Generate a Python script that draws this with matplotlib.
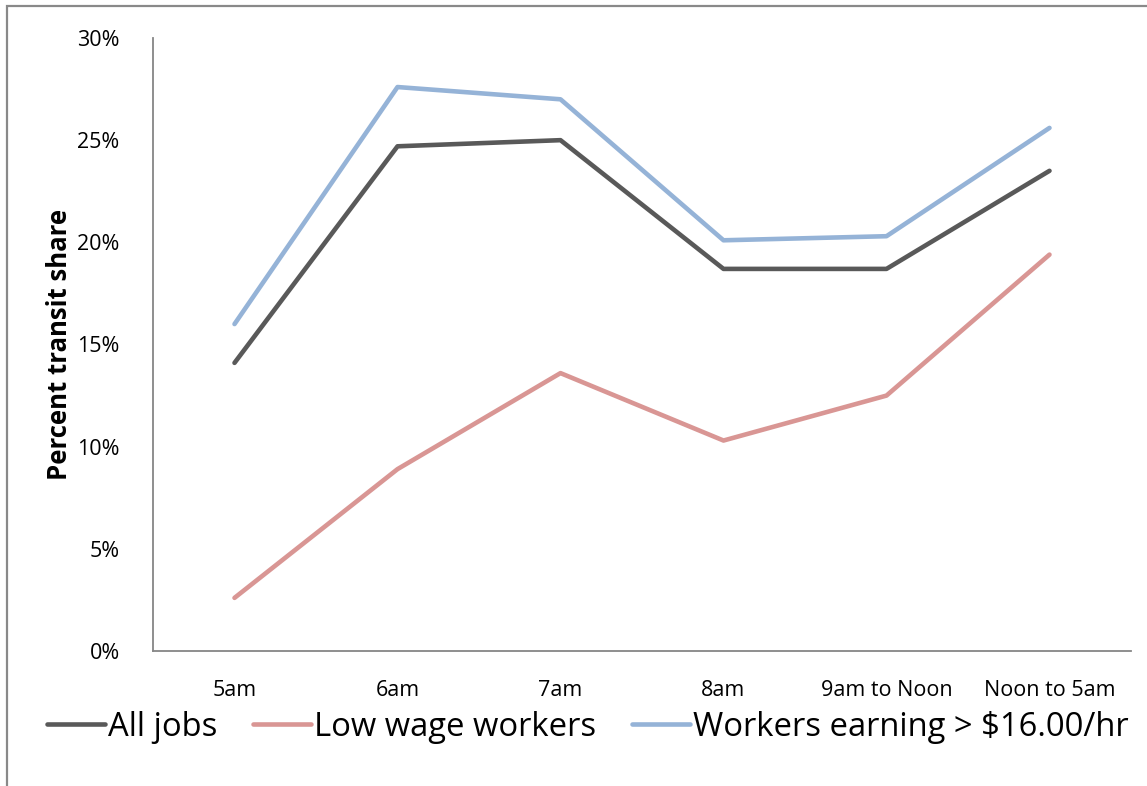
import numpy as np
import matplotlib.pyplot as plt
from matplotlib.patches import Rectangle
from matplotlib.ticker import FuncFormatter

plt.rcParams['font.family'] = ['Open Sans', 'DejaVu Sans']

categories = ["5am", "6am", "7am", "8am", "9am to Noon", "Noon to 5am"]
all_jobs = [14.1, 24.7, 25.0, 18.7, 18.7, 23.5]
low_wage = [2.6, 8.9, 13.6, 10.3, 12.5, 19.4]
high_wage = [16.0, 27.6, 27.0, 20.1, 20.3, 25.6]

W, H = 1147, 786
fig = plt.figure(figsize=(W / 100, H / 100), dpi=100)

# outer chart frame (only left and top edges visible in the reference)
fig.patches.append(Rectangle((7 / W, -0.1), 1.2, 1 - 6 / H + 0.1,
                             transform=fig.transFigure, fill=False,
                             edgecolor="#898989", linewidth=1.6))

ax = fig.add_axes([153 / W, (H - 651) / H, (1131 - 153) / W, (651 - 38) / H])
x = np.arange(len(categories))

ax.plot(x, all_jobs, color="#595959", lw=3.3, solid_capstyle="round", label="All jobs")
ax.plot(x, low_wage, color="#D99694", lw=3.3, solid_capstyle="round", label="Low wage workers")
ax.plot(x, high_wage, color="#95B3D7", lw=3.3, solid_capstyle="round",
        label="Workers earning > $16.00/hr")

ax.set_xlim(-0.5, len(categories) - 0.5)
ax.set_ylim(0, 30)
ax.set_yticks(np.arange(0, 31, 5))
ax.yaxis.set_major_formatter(FuncFormatter(lambda v, p: f"{v:.0f}%"))
ax.set_xticks(x)
ax.set_xticklabels(categories)
ax.tick_params(axis="y", length=0, pad=24, labelsize=15.5)
ax.tick_params(axis="x", length=0, pad=21, labelsize=15.5)

for s in ["top", "right"]:
    ax.spines[s].set_visible(False)
for s in ["left", "bottom"]:
    ax.spines[s].set_color("#868686")
    ax.spines[s].set_linewidth(1.3)

ax.set_ylabel("Percent transit share", fontsize=18.5, fontweight="bold")
ax.yaxis.set_label_coords(-80 / (1131 - 153), 0.5)

fig.legend(loc="center", bbox_to_anchor=(588 / W, 1 - 727 / H), ncol=3,
           frameon=False, fontsize=23.6, handlelength=1.75, handletextpad=0.1,
           columnspacing=1.1, borderaxespad=0)

fig.savefig("out.png", dpi=100)
